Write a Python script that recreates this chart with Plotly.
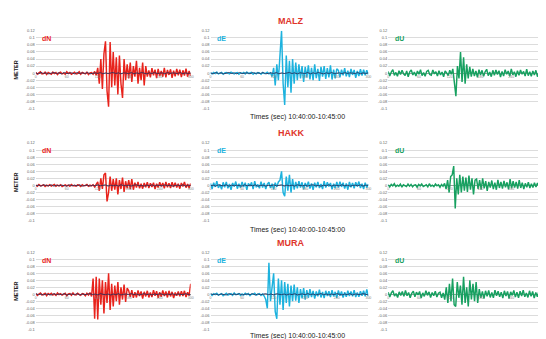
import numpy as np
import plotly.graph_objects as go

W, H = 546, 339

# ---------------- data (millimetres, converted to metres) ----------------
stations = ["MALZ", "HAKK", "MURA"]
components = ["dN", "dE", "dU"]
y_tick_vals = [-0.1, -0.08, -0.06, -0.04, -0.02, 0, 0.02, 0.04, 0.06, 0.08, 0.1, 0.12]
y_tick_text = ["-0.1", "-0.08", "-0.06", "-0.04", "-0.02", "0", "0.02", "0.04", "0.06", "0.08", "0.1", "0.12"]
x_tick_vals = [0, 60, 120, 180, 240, 300]
x_tick_text = ["0", "60", "120", "180", "240", "300"]

malz_dN = [2,-3,1,4,-2,-1,3,-4,2,0,-3,3,-1,2,-4,1,3,-2,0,-3,4,-1,2,-3,1,3,-2,-1,4,-3,2,0,-2,3,-4,1,2,-3,5,-6,
           15,-30,40,-45,55,90,-50,-95,88,-40,60,-35,45,-60,50,-30,-70,40,-20,
           25,-15,30,-25,20,-10,35,-30,15,-20,30,-35,20,-10,
           8,-12,14,-6,10,-14,12,-8,6,-10,15,-12,9,-5,11,-13,7,-9,12,-6,10,-11,8,-7,13,-10,6,-8]
malz_dE = [1,-2,2,-1,3,-2,0,2,-3,1,2,-1,-2,3,0,-2,1,2,-3,1,-1,2,-2,3,-1,0,2,-3,1,-2,2,1,-3,2,-1,0,3,-2,1,
           -10,15,-35,25,-20,45,120,-30,-90,50,-40,35,-55,40,-30,30,-20,25,
           -15,20,-25,18,-12,22,-18,15,-20,25,-14,12,-22,18,-10,20,-16,14,-12,22,-18,10,-15,12,
           8,-12,10,-6,14,-9,7,-11,12,-5,9,-13,6,-8,11,-7,10,-6,8,-4]
malz_dU = [5,-8,3,10,-6,2,-9,7,-4,8,-2,-7,6,-10,4,9,-5,3,-8,6,-3,10,-7,2,-9,5,8,-4,-6,9,-2,4,-8,7,-5,3,-10,6,1,-7,8,-3,12,
           -20,-65,20,-15,60,-25,45,-30,25,-15,18,
           -10,12,-8,6,-12,10,-5,8,-9,4,11,-7,3,-10,8,-6,9,-4,7,-11,5,-8,10,-3,6,-9,12,-5,4,-10,7,-6,9,-3,5,-8,11,-7,4,-9,6,-5,8,-10,3,7,-4]

hakk_dN = [1,-2,3,-1,0,2,-3,1,-1,2,-2,0,3,-2,1,-1,2,-3,0,2,-1,1,-2,3,-1,0,-2,2,1,-3,2,-1,0,3,-2,1,-1,2,-4,5,
           10,-15,20,-10,30,35,-45,-20,25,-15,18,-12,20,-25,15,-10,22,-18,12,-8,15,-10,18,-12,
           8,-6,10,-8,5,-9,7,-5,9,-7,6,-4,8,-10,5,-6,9,-3,7,-8,10,-5,6,-7,9,-4,8,-6,5,-9,7,-3,10,-6,4,-8,6]
hakk_dE = [6,-10,8,-4,12,-7,3,-11,9,-5,10,-8,4,-12,7,-3,11,-9,5,-6,10,-4,8,-12,6,-2,9,-10,12,-5,3,-8,11,-6,7,-10,4,9,-7,5,-11,8,-4,10,
           15,40,-20,-30,25,-15,30,-20,18,-12,
           10,-8,12,-6,9,-11,7,-4,11,-9,6,-12,8,-5,10,-7,4,-10,12,-6,9,-3,7,-11,5,-8,10,-6,11,-4,8,-9,6,-12,10,-5,7,-8,9,-3,11,-7,5,-10,8,-6,4]
hakk_dU = [2,-4,3,-1,5,-3,1,-2,4,-5,2,0,-3,4,-2,3,-4,1,2,-5,3,-1,4,-3,0,2,-4,5,-2,1,-3,4,-1,2,-5,3,-2,6,
           -10,15,-20,25,30,55,-65,20,-25,30,-20,25,-15,22,-18,28,-12,20,-25,15,
           18,-10,15,-12,20,-8,12,-15,10,-6,14,-10,8,-12,16,-7,10,-9,13,-5,9,-11,18,-8,12,-6,10,-9,15,-7,8,-10,6,-5,9,-7,
           5,-6,8,-4,7,-3,6,-5]

mura_dN = [2,-3,1,4,-2,0,3,-4,2,-1,3,-2,1,-3,4,-1,2,-2,0,3,-4,1,2,-3,4,-1,-2,3,0,-3,2,1,-4,3,-2,5,-6,
           45,-70,50,-72,45,-30,40,-55,35,-25,60,-45,30,-35,25,-20,35,-30,20,-15,28,-22,18,
           10,-8,12,-10,6,-9,11,-5,8,-12,7,-6,10,-9,5,-8,12,-4,9,-10,6,-7,11,-5,8,-9,10,-6,7,-11,5,-4,8,-6,9,-5,10,-8,6,-4,30]
mura_dE = [1,-3,2,-1,3,-2,0,2,-4,1,3,-2,-1,2,-3,4,-1,0,2,-3,1,-2,3,-1,2,-4,1,0,3,-2,-1,2,-3,1,-5,
           -15,-40,90,-20,30,60,-50,-70,45,-30,40,-45,35,-25,30,-35,25,-20,28,-18,20,-25,15,-12,18,-15,
           12,-10,15,-8,10,-12,8,-6,13,-9,7,-11,10,-5,9,-8,12,-6,7,-10,11,-4,8,-9,6,-7,10,-5,8,-6,12,-8,5,-7,9,-4,10,-6,14,-5]
mura_dU = [6,-8,4,10,-5,2,-9,7,-3,8,-6,11,-4,5,-10,3,9,-7,6,-2,8,-11,4,-6,10,-3,7,-9,5,-4,9,-8,3,6,-10,4,
           -15,20,-25,30,-20,45,-30,-35,35,-10,25,-30,50,-25,20,-35,40,-15,30,-20,35,-25,15,-10,
           8,-12,10,-6,11,-9,5,-10,12,-4,9,-7,6,-11,10,-5,8,-12,7,-3,11,-8,6,-10,9,-5,12,-7,4,-9,10,-6,8,-11,5,-7,9,-4,12]

# dark reference trace drawn along the quiet baseline
malz_base = [1,-2,2,-1,1,-2,0,2,-1,1,-2,2,-1,0,1,-2,2,-1,1,-1,2,-2,0,1,-1,2,-2,1,-1,0,2,-1,1,-2,1,0,-1,2,-2,1,-1,2,0,-2,1,-1,2,-1,0,1,-2,2,-1,1,0,-1,2,-2,1,-1,1]
hakk_base = [-1,1,-2,2,0,-1,2,-2,1,-1,1,0,-2,2,-1,1,-1,2,-2,0,1,-2,1,-1,2,-1,0,2,-2,1,-1,1,-2,2,0,-1,1,-2,1,2,-1,0,-2,1,-1,2,-2,1,0,-1,2,-1,1,-2,0,1,-1,2,-2,1,0]
mura_base = [2,-1,1,-2,1,0,-2,2,-1,1,-1,2,-2,0,1,-1,2,-2,1,-1,0,2,-1,1,-2,2,0,-1,1,-2,1,-1,2,-2,0,1,-1,2,-1,1,-2,0,2,-1,1,-2,1,-1,2,0,-2,1,-1,2,-2,1,0,-1,2,-1,-2]

series = {
    ("MALZ", "dN"): malz_dN, ("MALZ", "dE"): malz_dE, ("MALZ", "dU"): malz_dU,
    ("HAKK", "dN"): hakk_dN, ("HAKK", "dE"): hakk_dE, ("HAKK", "dU"): hakk_dU,
    ("MURA", "dN"): mura_dN, ("MURA", "dE"): mura_dE, ("MURA", "dU"): mura_dU,
}
baselines = {"MALZ": malz_base, "HAKK": hakk_base, "MURA": mura_base}

# ---------------- styling ----------------
comp_colors = {"dN": "#e8231c", "dE": "#1db2de", "dU": "#17a060"}
base_color = "#27305e"
title_red = "#e0352b"

col_px = [(27, 183), (203, 362), (382, 537)]
row_px = [(20, 99), (134, 213), (245, 323)]
title_y = [10, 124, 235]
times_y = [108, 222, 330]

def px(x):
    return x / W

def py(y):
    return 1 - y / H

fig = go.Figure()
annotations = []
ymin, ymax = -0.1, 0.12

k = 0
for r, st in enumerate(stations):
    for c, comp in enumerate(components):
        k += 1
        xa = "x" if k == 1 else f"x{k}"
        ya = "y" if k == 1 else f"y{k}"
        xkey = "xaxis" if k == 1 else f"xaxis{k}"
        ykey = "yaxis" if k == 1 else f"yaxis{k}"
        vals = np.array(series[(st, comp)]) / 1000.0
        t = np.linspace(0, 300, len(vals))
        fig.add_trace(go.Scatter(x=t, y=vals, mode="lines", xaxis=xa, yaxis=ya,
                                 line=dict(color=comp_colors[comp], width=1.45),
                                 showlegend=False, hoverinfo="skip"))
        if comp != "dU":
            b = np.array(baselines[st]) / 1000.0
            tb = np.linspace(0, 300, len(b))
            fig.add_trace(go.Scatter(x=tb, y=b, mode="lines", xaxis=xa, yaxis=ya,
                                     line=dict(color=base_color, width=1.0),
                                     opacity=0.85, showlegend=False, hoverinfo="skip"))
        x0, x1 = col_px[c]
        y0, y1 = row_px[r]
        ydom = [py(y1), py(y0)]
        zero_pos = ydom[0] + (0 - ymin) / (ymax - ymin) * (ydom[1] - ydom[0])
        fig.layout[xkey] = dict(domain=[px(x0), px(x1)], range=[0, 300],
                                anchor="free", position=zero_pos,
                                showgrid=False, zeroline=False, showline=False,
                                tickvals=x_tick_vals, ticktext=x_tick_text,
                                ticks="", ticklabelstandoff=0,
                                tickfont=dict(size=3.5, color="#888", family="Liberation Sans"),
                                fixedrange=True)
        fig.layout[ykey] = dict(domain=ydom, range=[ymin, ymax], anchor=xa,
                                tickvals=y_tick_vals, ticktext=y_tick_text,
                                showgrid=True, gridcolor="#dcdcdc", gridwidth=0.6,
                                zeroline=True, zerolinecolor="#9a9a9a", zerolinewidth=0.8,
                                showline=False, ticks="",
                                tickfont=dict(size=4, color="#666", family="Liberation Sans"),
                                fixedrange=True)
        annotations.append(dict(text=f"<b>{comp}</b>", xref=f"{xa} domain", yref=f"{ya} domain",
                                x=0.03, y=0.97, xanchor="left", yanchor="top", showarrow=False,
                                font=dict(size=7, color=comp_colors[comp], family="Liberation Sans")))
    # row-level texts
    annotations.append(dict(text=f"<b>{st}</b>", xref="paper", yref="paper",
                            x=px(284), y=py(title_y[r]), xanchor="center", yanchor="middle",
                            showarrow=False,
                            font=dict(size=9, color=title_red, family="Liberation Sans")))
    annotations.append(dict(text="Times (sec) 10:40:00-10:45:00", xref="paper", yref="paper",
                            x=px(291), y=py(times_y[r]), xanchor="center", yanchor="middle",
                            showarrow=False,
                            font=dict(size=7, color="#222", family="Liberation Sans")))
    annotations.append(dict(text="<b>METER</b>", xref="paper", yref="paper",
                            x=px(7), y=py((row_px[r][0] + row_px[r][1]) / 2), textangle=-90,
                            xanchor="center", yanchor="middle", showarrow=False,
                            font=dict(size=5.5, color="#222", family="Liberation Sans")))

fig.update_layout(width=W, height=H, margin=dict(l=0, r=0, t=0, b=0),
                  paper_bgcolor="white", plot_bgcolor="white",
                  annotations=annotations, showlegend=False)

fig.write_html("out.html", config={"displayModeBar": False})
